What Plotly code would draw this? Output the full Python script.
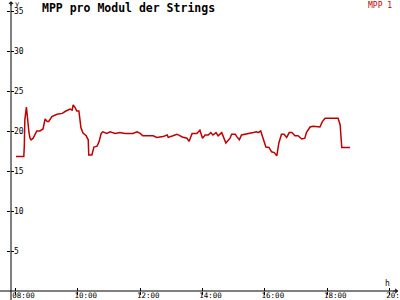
import plotly.graph_objects as go

times = ["08:01","08:16","08:17","08:18","08:21","08:22","08:24","08:26","08:28","08:30",
         "08:34","08:38","08:41","08:47","08:53","08:57","09:01","09:04","09:10","09:20",
         "09:30","09:37","09:45","09:49","09:51","09:55","09:58","10:02","10:04","10:06",
         "10:10","10:16","10:20","10:21","10:27","10:31","10:37","10:41","10:45","10:48",
         "10:56","11:02","11:12","11:21","11:31","11:40","11:46","11:54","12:00","12:05",
         "12:15","12:25","12:32","12:44","12:52","12:54","13:03","13:11","13:21","13:30",
         "13:34","13:40","13:49","13:55","14:00","14:05","14:11","14:16","14:20","14:26",
         "14:30","14:37","14:45","14:53","14:56","15:03","15:06","15:11","15:15","15:25",
         "15:31","15:38","15:44","15:47","15:52","15:57","16:02","16:08","16:13","16:18",
         "16:23","16:27","16:32","16:37","16:42","16:47","16:52","16:58","17:04","17:11",
         "17:17","17:20","17:27","17:33","17:43","17:46","17:51","17:56","18:21","18:25",
         "18:27","18:28","18:44"]
mpp1 = [16.8,16.8,18.2,21.4,23.0,22.2,21.2,19.75,19.1,18.9,
        19.1,19.7,20.0,20.0,20.25,21.5,21.2,21.2,21.8,22.1,
        22.2,22.5,22.75,22.6,23.25,22.9,22.5,22.5,21.0,20.4,
        19.75,19.4,18.9,17.0,17.0,18.0,18.1,18.7,19.7,19.9,
        19.7,19.9,19.7,19.8,19.7,19.7,19.7,19.9,19.7,19.4,
        19.4,19.4,19.2,19.3,19.5,19.2,19.4,19.6,19.25,19.1,
        18.7,19.7,19.7,20.1,19.1,19.5,19.5,19.8,19.5,19.8,
        19.4,19.8,18.5,19.1,19.6,19.6,19.3,18.9,19.5,19.6,
        19.7,19.8,19.9,19.8,20.0,19.1,18.0,17.95,17.4,17.3,
        16.9,18.5,19.6,19.6,19.2,19.8,19.8,19.4,19.4,19.0,
        19.1,19.8,20.5,20.6,20.5,20.5,21.2,21.6,21.6,20.75,
        18.9,17.95,17.95]
x_tickvals = [8, 10, 12, 14, 16, 18, 20]
x_ticktext = ["08:00", "10:00", "12:00", "14:00", "16:00", "18:00", "20:00"]
y_tickvals = [5, 10, 15, 20, 25, 30, 35]

def to_h(t):
    h, m = t.split(":")
    return int(h) + int(m) / 60.0

hours = [to_h(t) for t in times]

RED = "#c00000"
FONT = "DejaVu Sans Mono"
XR = [7.8556, 20.272]
YR = [0, 36.125]

fig = go.Figure()
fig.add_trace(go.Scatter(x=hours, y=mpp1, mode="lines", name="MPP 1",
                         line=dict(color=RED, width=1.5), showlegend=False))
fig.add_trace(go.Scatter(x=[XR[0]], y=[YR[0]], xaxis="x2", yaxis="y2",
                         mode="markers", marker=dict(opacity=0), showlegend=False,
                         hoverinfo="skip"))

fig.update_layout(
    width=400, height=300,
    margin=dict(l=11, r=2, t=2, b=9, autoexpand=False),
    paper_bgcolor="white", plot_bgcolor="white",
    font=dict(family=FONT, size=8, color="black"),
    xaxis=dict(range=XR, tickvals=x_tickvals, ticktext=x_ticktext, automargin=False,
               showgrid=False, zeroline=False, showline=False,
               ticks="outside", ticklen=3, tickcolor="black", tickwidth=1,
               ticklabelshift=8, ticklabelstandoff=-6, ticklabeloverflow="allow",
               tickfont=dict(family=FONT, size=7.5, color="black")),
    yaxis=dict(range=YR, tickvals=y_tickvals, showgrid=False, zeroline=False,
               automargin=False,
               showline=False, ticks="outside", ticklen=3, tickcolor="black",
               ticklabelposition="inside", ticklabeloverflow="allow",
               tickfont=dict(family=FONT, size=8, color="black")),
    xaxis2=dict(range=XR, overlaying="x", tickvals=x_tickvals, showticklabels=False,
                ticks="inside", ticklen=3, tickcolor="black", showgrid=False,
                zeroline=False, anchor="y2", side="bottom", automargin=False),
    yaxis2=dict(range=YR, overlaying="y", tickvals=y_tickvals, showticklabels=False,
                ticks="inside", ticklen=3, tickcolor="black", showgrid=False,
                zeroline=False, anchor="x2", side="left", automargin=False),
    shapes=[
        dict(type="line", xref="paper", yref="paper", x0=0, x1=0, y0=-0.035, y1=1,
             line=dict(color="black", width=1)),
        dict(type="line", xref="paper", yref="paper", x0=-0.03, x1=1, y0=0, y1=0,
             line=dict(color="black", width=1)),
    ],
    annotations=[
        dict(text="<b>MPP pro Modul der Strings</b>", xref="paper", yref="paper",
             x=(40 - 11) / 387, y=(291 - 8) / 289, xanchor="left", yanchor="middle",
             showarrow=False, font=dict(family=FONT, size=11.5, color="black")),
        dict(text="MPP 1", xref="paper", yref="paper", x=(394 - 11) / 387,
             y=(291 - 5) / 289, xanchor="right", yanchor="middle", showarrow=False,
             font=dict(family=FONT, size=8, color=RED)),
        dict(text="y", xref="paper", yref="paper", x=(13 - 11) / 387, y=(291 - 4) / 289,
             xanchor="left", yanchor="middle", showarrow=False,
             font=dict(family=FONT, size=7)),
        dict(text="h", xref="paper", yref="paper", x=(387 - 11) / 387, y=(291 - 283) / 289,
             xanchor="center", yanchor="middle", showarrow=False,
             font=dict(family=FONT, size=8)),
        dict(text="", xref="paper", yref="paper", x=0, y=1.003, ax=0, ay=6,
             showarrow=True, arrowhead=4, arrowsize=0.8, arrowwidth=1, arrowcolor="black",
             axref="pixel", ayref="pixel"),
        dict(text="", xref="paper", yref="paper", x=1.0, y=0, ax=-6, ay=0,
             showarrow=True, arrowhead=4, arrowsize=0.8, arrowwidth=1, arrowcolor="black",
             axref="pixel", ayref="pixel"),
    ],
)

fig.write_html("out.html")
